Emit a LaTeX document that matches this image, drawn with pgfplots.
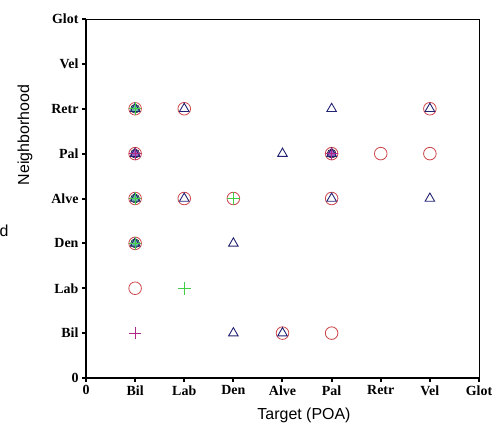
\documentclass[border=0pt]{standalone}
\usepackage{fontspec}
\setmainfont{Liberation Serif}
\newfontfamily\labelfont{Liberation Sans}
\usepackage{pgfplots}
\pgfplotsset{compat=1.18}
\definecolor{cRed}{RGB}{205,70,75}
\definecolor{cNavy}{RGB}{35,35,115}
\definecolor{cGreen}{RGB}{70,205,70}
\definecolor{cPurple}{RGB}{175,40,135}
\definecolor{cTeal}{RGB}{70,170,160}
\definecolor{cLilac}{RGB}{135,70,185}

\begin{document}
\begin{tikzpicture}
\useasboundingbox (-86bp,-45bp) rectangle (409bp,378bp);
\begin{axis}[
  at={(0,0)}, anchor=south west,
  scale only axis,
  width=393bp, height=359bp,
  xmin=0, xmax=8, ymin=0, ymax=8,
  xtick={0,...,8}, ytick={0,...,8},
  xticklabels={0,Bil,Lab,Den,Alve,Pal,Retr,Vel,Glot},
  yticklabels={0,Bil,Lab,Den,Alve,Pal,Retr,Vel,Glot},
  xtick pos=left, ytick pos=left,
  tick align=outside,
  major tick length=4bp,
  tick style={black, line width=2bp},
  axis line style={black, line width=0.8bp},
  ticklabel style={font=\fontsize{14}{16}\selectfont\bfseries},
  clip=false,
]
% blended fill of the stacked symbols
\addplot[only marks, mark=*, mark size=4.5bp, draw=none, fill=cTeal, fill opacity=0.8]
  coordinates {(1,6) (1,4) (1,3)};
\addplot[only marks, mark=*, mark size=4.5bp, draw=none, fill=cLilac, fill opacity=0.8]
  coordinates {(1,5) (5,5)};
% circles
\addplot[only marks, mark=o, mark size=6.3bp, mark options={draw=cRed, line width=0.8bp}]
  coordinates {(1,6) (1,5) (1,4) (1,3) (1,2) (2,6) (2,4) (3,4) (4,1)
               (5,5) (5,4) (5,1) (6,5) (7,6) (7,5)};
% triangles
\addplot[only marks, mark=triangle, mark size=5.5bp, mark options={draw=cNavy, line width=0.9bp}]
  coordinates {(1,6) (1,5) (1,4) (1,3) (2,6) (2,4) (3,3) (3,1) (4,5)
               (4,1) (5,6) (5,5) (5,4) (7,6) (7,4)};
% green plus
\addplot[only marks, mark=+, mark size=6.3bp, mark options={draw=cGreen, line width=0.8bp}]
  coordinates {(1,6) (1,4) (1,3) (2,2) (3,4)};
% purple plus
\addplot[only marks, mark=+, mark size=6bp, mark options={draw=cPurple, line width=1bp}]
  coordinates {(1,5) (1,1) (5,5)};
\draw[black, line width=2bp] (rel axis cs:0,1) -- (rel axis cs:0,0) -- (rel axis cs:1,0);
\end{axis}
\node[rotate=90, font=\labelfont\fontsize{16}{18}\selectfont] at (-61bp,243bp) {Neighborhood};
\node[font=\labelfont\fontsize{16}{18}\selectfont] at (-82bp,147bp) {d};
\node[font=\labelfont\fontsize{16}{18}\selectfont] at (218bp,-37bp) {Target (POA)};
\end{tikzpicture}
\end{document}
